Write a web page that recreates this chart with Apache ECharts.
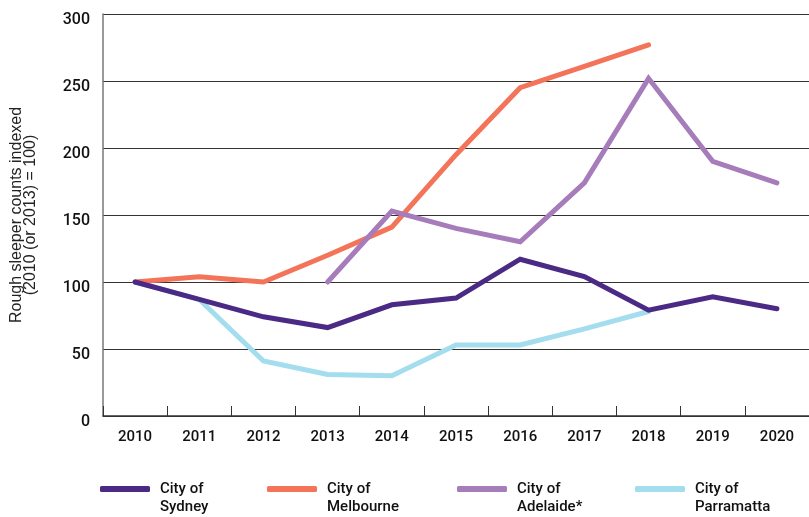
<!DOCTYPE html>
<html>
<head>
<meta charset="utf-8">
<style>
  html, body { margin: 0; padding: 0; background: #fff; }
  #chart { width: 809px; height: 517px; }
</style>
<script src="https://cdn.jsdelivr.net/npm/echarts@6/dist/echarts.min.js"></script>
</head>
<body>
<div id="chart"></div>
<script>
// Rough sleeper counts, indexed to 2010 (Adelaide to 2013) = 100
const years = ['2010', '2011', '2012', '2013', '2014', '2015', '2016', '2017', '2018', '2019', '2020'];
const yTicks = [0, 50, 100, 150, 200, 250, 300];

const sydney     = [100, 87, 74, 66, 83, 88, 117, 104, 79, 89, 80];
const melbourne  = [100, 104, 100, 120, 141, 195, 245, 261, 277, null, null];
const adelaide   = [null, null, null, 100, 153, 140, 130, 174, 252, 190, 174];
const parramatta = [100, 87, 41, 31, 30, 53, 53, 65, 78, null, null];

const seriesNames = ['City of\nSydney', 'City of\nMelbourne', 'City of\nAdelaide*', 'City of\nParramatta'];
const seriesColors = ['#4b2a85', '#f4745a', '#a67dba', '#a3ddee'];
const seriesData = [sydney, melbourne, adelaide, parramatta];
// draw order: Sydney on top of Parramatta where they overlap
const seriesZ = [5, 3, 4, 2];
const legendLeft = [100, 267, 457, 635];

const chart = echarts.init(document.getElementById('chart'), null, { renderer: 'canvas' });

const legendFont = { fontFamily: 'Roboto', fontWeight: 500, fontSize: 15, color: '#111', lineHeight: 18, padding: [0, 0, 0, 5] };

chart.setOption({
  animation: false,
  backgroundColor: '#ffffff',
  grid: { left: 103, right: -9, top: 14, bottom: 101, containLabel: false },
  xAxis: {
    type: 'category',
    data: years,
    boundaryGap: true,
    axisLine: { show: true, lineStyle: { color: '#333', width: 1.5 } },
    axisTick: { show: true, inside: true, length: 10, lineStyle: { color: '#333', width: 1 } },
    axisLabel: { color: '#111', fontFamily: 'Roboto', fontWeight: 500, fontSize: 15, margin: 14 },
    splitLine: { show: false }
  },
  yAxis: {
    type: 'value',
    min: yTicks[0],
    max: yTicks[yTicks.length - 1],
    interval: 50,
    name: 'Rough sleeper counts indexed\n(2010 (or 2013) = 100)',
    nameLocation: 'middle',
    nameGap: 65,
    nameRotate: 90,
    nameTextStyle: { fontFamily: 'Liberation Sans', fontSize: 16, color: '#222', lineHeight: 14 },
    axisLine: { show: true, lineStyle: { color: '#777', width: 1.5 } },
    axisTick: { show: false },
    // labels sit slightly below their gridlines
    axisLabel: { color: '#111', fontFamily: 'Roboto', fontWeight: 500, fontSize: 16, margin: 13, verticalAlign: 'top', lineHeight: 12 },
    splitLine: { show: true, lineStyle: { color: '#333', width: 1.2 } }
  },
  legend: seriesNames.map((n, i) => ({
    data: [n],
    left: legendLeft[i],
    top: 462,
    padding: 0,
    orient: 'horizontal',
    icon: 'roundRect',
    itemWidth: 50,
    itemHeight: 6,
    itemGap: 10,
    // leading blank line keeps the first text line level with the swatch
    formatter: name => ' \n' + name,
    textStyle: legendFont,
    selectedMode: false
  })),
  series: seriesNames.map((n, i) => ({
    name: n,
    type: 'line',
    data: seriesData[i],
    z: seriesZ[i],
    symbol: 'none',
    connectNulls: false,
    color: seriesColors[i],
    lineStyle: { color: seriesColors[i], width: 5, cap: 'round', join: 'miter' },
    itemStyle: { color: seriesColors[i] }
  }))
});
</script>
</body>
</html>
